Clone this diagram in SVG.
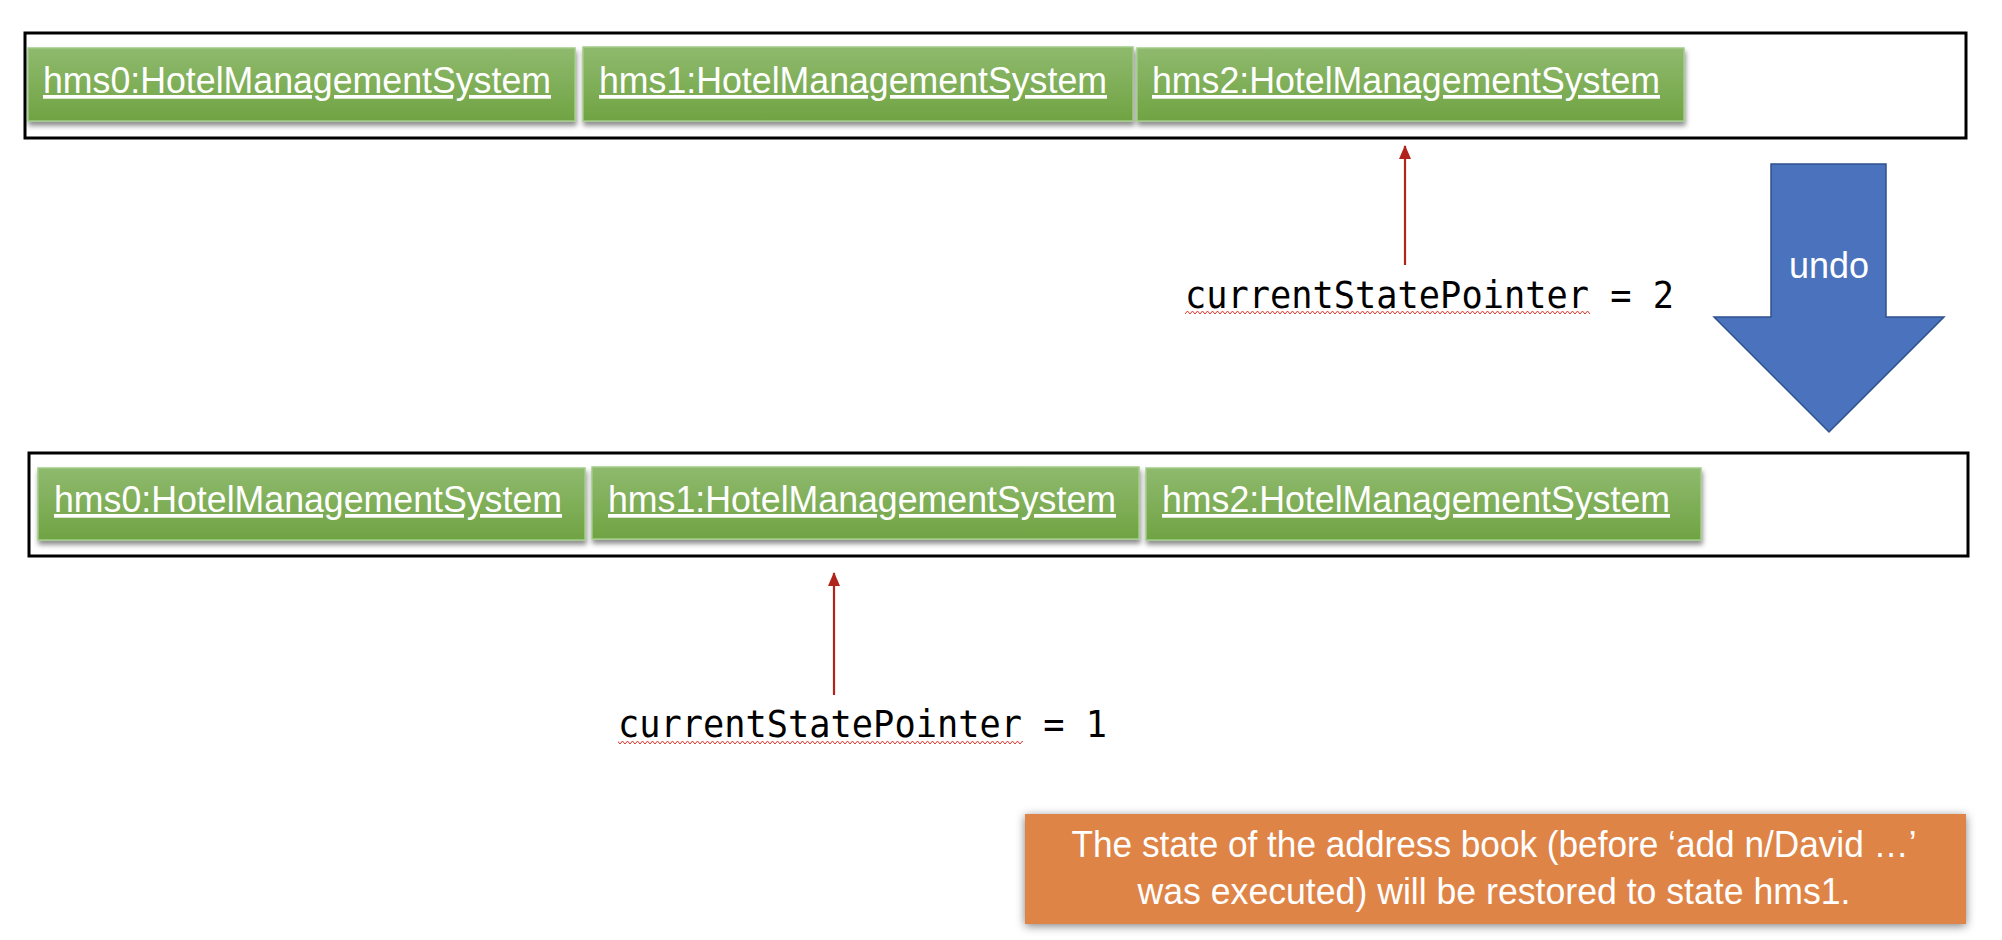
<svg xmlns="http://www.w3.org/2000/svg" width="2002" height="940" viewBox="0 0 2002 940">
<style>
.frame{fill:#ffffff;stroke:#000000;stroke-width:3}
.obj{fill:url(#gg);stroke:#a3cc88;stroke-width:1.5;filter:url(#sh)}
.objt{font-family:"Liberation Sans",Arial,sans-serif;font-size:37px;fill:#ffffff;text-decoration:underline}
.ptr{font-family:"DejaVu Sans Mono","Liberation Mono",monospace;font-size:37px;fill:#000000}
.conn{stroke:#b0241b;stroke-width:2.2;fill:none}
.note{fill:#df8447;filter:url(#sh2)}
.notet{font-family:"Liberation Sans",Arial,sans-serif;font-size:36px;fill:#ffffff;text-anchor:middle}
</style>
<defs>
<linearGradient id="gg" x1="0" y1="0" x2="0" y2="1">
<stop offset="0" stop-color="#8fba6e"/>
<stop offset="1" stop-color="#70a343"/>
</linearGradient>
<filter id="sh" x="-5%" y="-20%" width="110%" height="150%">
<feDropShadow dx="1" dy="4" stdDeviation="2.5" flood-color="#000" flood-opacity="0.45"/>
</filter>
<filter id="sh2" x="-5%" y="-20%" width="110%" height="140%">
<feDropShadow dx="0" dy="2" stdDeviation="5" flood-color="#000" flood-opacity="0.5"/>
</filter>
<marker id="ah" markerWidth="14" markerHeight="12" refX="13" refY="6" orient="auto" markerUnits="userSpaceOnUse" viewBox="0 0 14 12">
<path d="M14,6 L0,0 L0,12 Z" fill="#b0241b"/>
</marker>
<pattern id="wave" x="0" y="0" width="5" height="5" patternUnits="userSpaceOnUse">
<path d="M0,4 L2.5,1 L5,4" fill="none" stroke="#e0352b" stroke-width="1"/>
</pattern>
</defs>

<g id="frame-top"><rect class="frame" x="25" y="33" width="1941" height="105"/></g>
<g id="frame-bottom"><rect class="frame" x="29" y="453" width="1939" height="103"/></g>

<g id="hms0-top"><rect class="obj" x="28" y="48" width="547" height="73"/><text class="objt" x="43" y="93" textLength="508" lengthAdjust="spacingAndGlyphs">hms0:HotelManagementSystem</text></g>
<g id="hms1-top"><rect class="obj" x="583" y="47" width="550" height="74"/><text class="objt" x="599" y="93" textLength="508" lengthAdjust="spacingAndGlyphs">hms1:HotelManagementSystem</text></g>
<g id="hms2-top"><rect class="obj" x="1137" y="48" width="547" height="73"/><text class="objt" x="1152" y="93" textLength="508" lengthAdjust="spacingAndGlyphs">hms2:HotelManagementSystem</text></g>

<g id="hms0-bottom"><rect class="obj" x="38" y="468" width="547" height="72"/><text class="objt" x="54" y="512" textLength="508" lengthAdjust="spacingAndGlyphs">hms0:HotelManagementSystem</text></g>
<g id="hms1-bottom"><rect class="obj" x="592" y="467" width="547" height="72"/><text class="objt" x="608" y="512" textLength="508" lengthAdjust="spacingAndGlyphs">hms1:HotelManagementSystem</text></g>
<g id="hms2-bottom"><rect class="obj" x="1146" y="468" width="555" height="72"/><text class="objt" x="1162" y="512" textLength="508" lengthAdjust="spacingAndGlyphs">hms2:HotelManagementSystem</text></g>

<g id="connectors">
<line class="conn" x1="1405" y1="265" x2="1405" y2="146" marker-end="url(#ah)"/>
<line class="conn" x1="834" y1="695" x2="834" y2="573" marker-end="url(#ah)"/>
</g>

<g id="pointer-top">
<text class="ptr" x="1185" y="308" textLength="489" lengthAdjust="spacingAndGlyphs" xml:space="preserve">currentStatePointer = 2</text>
<rect x="1185" y="311" width="405" height="5" fill="url(#wave)"/>
</g>
<g id="pointer-bottom">
<text class="ptr" x="618" y="737" textLength="489" lengthAdjust="spacingAndGlyphs" xml:space="preserve">currentStatePointer = 1</text>
<rect x="618" y="740" width="405" height="5" fill="url(#wave)"/>
</g>

<g id="undo">
<path d="M1771,164 L1886,164 L1886,317 L1944,317 L1829,432 L1714,317 L1771,317 Z" fill="#4a72bd" stroke="#2f528f" stroke-width="1.5"/>
<text x="1829" y="278" font-family="'Liberation Sans',Arial,sans-serif" font-size="36" fill="#ffffff" text-anchor="middle" textLength="80" lengthAdjust="spacingAndGlyphs">undo</text>
</g>

<g id="note">
<rect class="note" x="1025" y="814" width="941" height="110"/>
<text class="notet" x="1494" y="857" textLength="845" lengthAdjust="spacingAndGlyphs">The state of the address book (before ‘add n/David …’</text>
<text class="notet" x="1494" y="904" textLength="713" lengthAdjust="spacingAndGlyphs">was executed) will be restored to state hms1.</text>
</g>
</svg>
